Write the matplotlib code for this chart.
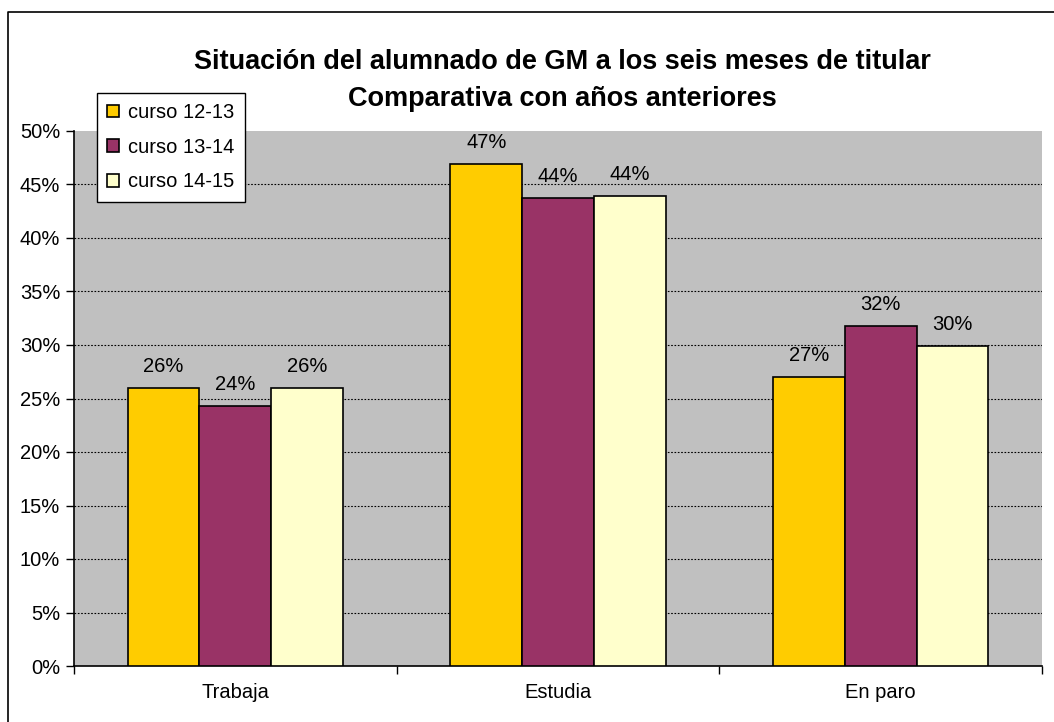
import matplotlib.pyplot as plt
import numpy as np

categories = ["Trabaja", "Estudia", "En paro"]
series_names = ["curso 12-13", "curso 13-14", "curso 14-15"]
curso_12_13 = [26.0, 46.9, 27.0]
curso_13_14 = [24.3, 43.7, 31.8]
curso_14_15 = [26.0, 43.9, 29.9]
labels_12_13 = ["26%", "47%", "27%"]
labels_13_14 = ["24%", "44%", "32%"]
labels_14_15 = ["26%", "44%", "30%"]
yticks = [0, 5, 10, 15, 20, 25, 30, 35, 40, 45, 50]

colors = ["#FFCC00", "#993366", "#FFFFCC"]

plt.rcParams["font.family"] = ["Liberation Sans", "DejaVu Sans"]

W, H = 1054, 722
fig = plt.figure(figsize=(W / 100, H / 100), dpi=100)

# outer chart frame (only left/top visible in reference)
frame = fig.add_axes([0, 0, 1, 1])
frame.set_xlim(0, W)
frame.set_ylim(H, 0)
frame.axis("off")
frame.plot([8, 8, W + 5], [H + 5, 12, 12], color="black", lw=1.2)

left, right, top, bottom = 74, 1042, 131, 666
ax = fig.add_axes([left / W, 1 - bottom / H, (right - left) / W, (bottom - top) / H])
ax.set_facecolor("#C0C0C0")

x = np.arange(len(categories))
bw = 1 / 4.5
data = [curso_12_13, curso_13_14, curso_14_15]
labs = [labels_12_13, labels_13_14, labels_14_15]
for i, (vals, lab) in enumerate(zip(data, labs)):
    xs = x + (i - 1) * bw
    ax.bar(xs, vals, width=bw, color=colors[i], edgecolor="black", linewidth=1.2,
           label=series_names[i], zorder=3)
    for xx, v, t in zip(xs, vals, lab):
        ax.text(xx, v + 1.5, t, ha="center", va="baseline", fontsize=14.5, zorder=4)

ax.set_xlim(-0.5, 2.5)
ax.set_ylim(0, 50)
ax.set_yticks(yticks)
ax.set_yticklabels([f"{t}%" for t in yticks], fontsize=14.5)
for t in yticks[1:-1]:
    ax.axhline(t, color="black", lw=0.8, ls=(0, (1.5, 1.5)), zorder=1)

ax.set_xticks(x)
ax.set_xticklabels(categories, fontsize=14.5)
ax.tick_params(axis="x", length=0, pad=12)
ax.set_xticks([-0.5, 0.5, 1.5, 2.5], minor=True)
ax.tick_params(axis="x", which="minor", length=6, direction="out", width=1)
ax.tick_params(axis="y", length=6, direction="out", width=1, pad=4)

for s in ["top", "right"]:
    ax.spines[s].set_visible(False)
ax.spines["left"].set_linewidth(1.2)
ax.spines["bottom"].set_linewidth(1.2)

fig.text(562 / W, 1 - 62 / H, "Situación del alumnado de GM a los seis meses de titular",
         ha="center", va="center", fontsize=19.5, weight="bold")
fig.text(562 / W, 1 - 99 / H, "Comparativa con años anteriores",
         ha="center", va="center", fontsize=19.5, weight="bold")

leg = fig.legend(loc="upper left", bbox_to_anchor=(97 / W, 1 - 93 / H), frameon=True,
                 fancybox=False, edgecolor="black", facecolor="white", framealpha=1,
                 fontsize=14.5, handlelength=0.6, handleheight=0.6, handletextpad=0.45,
                 borderpad=0.5, labelspacing=0.78, borderaxespad=0)
leg.get_frame().set_linewidth(1.0)

fig.savefig("out.png", dpi=100)
